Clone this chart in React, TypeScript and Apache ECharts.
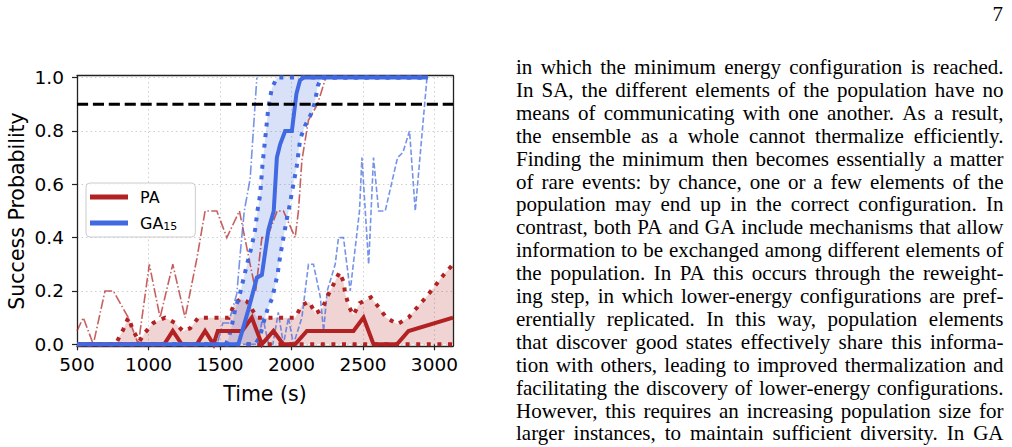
import React, { useEffect, useRef } from 'react';
import * as echarts from 'echarts';

// ---------------- data ----------------
const X_MIN = 500;
const X_MAX = 3130;
const X_STEP = 500;
const THRESHOLD = 0.9;

// PA (population annealing) mean success probability
const paMeanT = [500, 1110, 1170, 1233, 1338, 1396, 1455, 1485, 1655, 1723, 1793, 1874, 1942, 2026, 2108, 2434, 2504, 2574, 2738, 2819, 3130];
const paMeanP = [0, 0, 0.05, 0, 0, 0.05, 0, 0.05, 0.05, 0.1, 0, 0.05, 0, 0, 0.05, 0.05, 0.1, 0, 0, 0.05, 0.1];

// PA band (upper / lower)
const paUpT = [500, 770, 824, 859, 894, 935, 976, 1034, 1116, 1186, 1240, 1291, 1349, 1560, 1600, 1641, 1690, 1760, 2026, 2073, 2124, 2166, 2213, 2248, 2290, 2336, 2364, 2376, 2406, 2434, 2476, 2556, 2609, 2663, 2742, 2819, 2882, 2947, 3006, 3064, 3130];
const paUpP = [0, 0, 0.056, 0.1, 0.05, 0.01, 0.044, 0.08, 0.1, 0.08, 0.05, 0.06, 0.1, 0.1, 0.15, 0.17, 0.16, 0.1, 0.1, 0.147, 0.16, 0.116, 0.13, 0.176, 0.22, 0.27, 0.235, 0.19, 0.137, 0.11, 0.154, 0.176, 0.14, 0.1, 0.076, 0.1, 0.14, 0.18, 0.22, 0.26, 0.3];
const paLoT = [500, 3130];
const paLoP = [0, 0];

// GA (genetic algorithm, 15) mean success probability
const gaMeanT = [500, 1629, 1699, 1758, 1793, 1839, 1876, 1898, 1921, 1956, 2003, 2035, 2060, 2085, 2955];
const gaMeanP = [0, 0, 0.13, 0.25, 0.26, 0.43, 0.5, 0.7, 0.75, 0.8, 0.8, 0.94, 0.99, 1.0, 1.0];

// GA band (upper / lower)
const gaUpT = [500, 1540, 1559, 1583, 1606, 1640, 1653, 1694, 1723, 1746, 1762, 1781, 1797, 1816, 1839, 1863, 1898, 2955];
const gaUpP = [0, 0, 0.02, 0.07, 0.13, 0.19, 0.22, 0.31, 0.37, 0.43, 0.5, 0.56, 0.67, 0.77, 0.89, 0.96, 1.0, 1.0];
const gaLoT = [500, 1746, 1781, 1804, 1832, 1863, 1886, 1905, 1921, 1944, 1968, 1991, 2003, 2038, 2061, 2096, 2143, 2165, 2185, 2210, 2955];
const gaLoP = [0, 0, 0.03, 0.08, 0.13, 0.17, 0.22, 0.27, 0.33, 0.4, 0.47, 0.53, 0.57, 0.67, 0.77, 0.82, 0.87, 0.91, 0.97, 1.0, 1.0];

// thin individual-instance curves
const paInstT = [500, 544, 614, 696, 754, 859, 929, 1006, 1081, 1170, 1256, 1338, 1396, 1478, 1548, 1636, 1711, 1750, 1793, 1830, 1900, 1944, 2026, 2049, 2073, 2119, 2182, 2240];
const paInstP = [0.05, 0.1, 0, 0.2, 0.2, 0.1, 0, 0.3, 0.1, 0.3, 0.1, 0.32, 0.5, 0.5, 0.4, 0.5, 0.3, 0.2, 0.4, 0.4, 0.5, 0.5, 0.4, 0.5, 0.69, 0.84, 0.9, 1.0];

const gaInstAT = [500, 1480, 1520, 1560, 1618, 1640, 1670, 1711, 1758];
const gaInstAP = [0, 0, 0.08, 0.08, 0.19, 0.33, 0.5, 0.62, 1.0];

const gaInstBT = [500, 1760, 1800, 1840, 1870, 1908, 1944, 1979, 2014, 2073, 2119, 2154, 2201, 2225, 2250, 2306, 2329, 2364, 2411, 2476, 2493, 2540, 2574, 2610, 2656, 2742, 2780, 2826, 2866, 2948];
const gaInstBP = [0, 0, 0.1, 0, 0, 0.12, 0, 0.1, 0, 0.1, 0.3, 0.3, 0.18, 0.05, 0.2, 0.3, 0.4, 0.4, 0.2, 0.5, 0.7, 0.3, 0.7, 0.5, 0.5, 0.7, 0.72, 0.8, 0.5, 1.0];

const Y_TICKS_STEP = 0.2;

const paragraphLines = [
  'in which the minimum energy configuration is reached.',
  'In SA, the different elements of the population have no',
  'means of communicating with one another. As a result,',
  'the ensemble as a whole cannot thermalize efficiently.',
  'Finding the minimum then becomes essentially a matter',
  'of rare events: by chance, one or a few elements of the',
  'population may end up in the correct configuration. In',
  'contrast, both PA and GA include mechanisms that allow',
  'information to be exchanged among different elements of',
  'the population. In PA this occurs through the reweight-',
  'ing step, in which lower-energy configurations are pref-',
  'erentially replicated. In this way, population elements',
  'that discover good states effectively share this informa-',
  'tion with others, leading to improved thermalization and',
  'facilitating the discovery of lower-energy configurations.',
  'However, this requires an increasing population size for',
  'larger instances, to maintain sufficient diversity. In GA',
];
const PAGE_NUMBER = '7';

// ---------------- styling ----------------
const RED = '#b22222';
const BLUE = '#4169e1';
const FONT = 'DejaVu Sans';
const SERIF = 'Liberation Serif';
const TEXT_SIZE = 21;
const TEXT_LEFT = 516;
const TEXT_RIGHT = 1003.5;
const LINE_Y0 = 67;
const LINE_STEP = 22.9;

const zip = (t: number[], p: number[]) => t.map((v, i) => [v, p[i]]);

function justifiedText(): any[] {
  const cv = document.createElement('canvas');
  const ctx = cv.getContext('2d')!;
  ctx.font = `${TEXT_SIZE}px "${SERIF}"`;
  const els: any[] = [];
  paragraphLines.forEach((line, i) => {
    const words = line.split(' ');
    const ws = words.map((w) => ctx.measureText(w).width);
    const total = ws.reduce((a, b) => a + b, 0);
    const gap = words.length > 1 ? (TEXT_RIGHT - TEXT_LEFT - total) / (words.length - 1) : 0;
    let x = TEXT_LEFT;
    words.forEach((w, j) => {
      els.push({
        type: 'text',
        x,
        y: LINE_Y0 + i * LINE_STEP,
        silent: true,
        style: {
          text: w,
          fontSize: TEXT_SIZE,
          fontFamily: SERIF,
          fill: '#000',
          textAlign: 'left',
          align: 'left',
          textVerticalAlign: 'middle',
          verticalAlign: 'middle',
        },
      });
      x += ws[j] + gap;
    });
  });
  els.push({
    type: 'text',
    x: 1003,
    y: 14,
    silent: true,
    style: {
      text: PAGE_NUMBER,
      fontSize: TEXT_SIZE,
      fontFamily: SERIF,
      fill: '#000',
      textAlign: 'right',
      align: 'right',
      textVerticalAlign: 'middle',
      verticalAlign: 'middle',
    },
  });
  return els;
}

function band(name: string, up: number[][], lo: number[][], fill: string) {
  return {
    name,
    type: 'custom',
    xAxisIndex: 0,
    yAxisIndex: 0,
    silent: true,
    clip: false,
    data: [[X_MIN, 0]],
    renderItem: (_params: any, api: any) => {
      const pts = [...up.map((p) => api.coord(p)), ...lo.slice().reverse().map((p) => api.coord(p))];
      return { type: 'polygon', shape: { points: pts }, style: { fill } };
    },
  };
}

function line(name: string, data: number[][], color: string, width: number, type: any, extra: any = {}) {
  return {
    name,
    type: 'line',
    xAxisIndex: 0,
    yAxisIndex: 0,
    data,
    showSymbol: false,
    symbol: 'none',
    clip: false,
    silent: true,
    color,
    itemStyle: { color },
    lineStyle: { color, width, type, cap: 'butt', join: 'miter' },
    ...extra,
  };
}

const DOT = [4, 6.6];
const DASHDOT = [9.6, 2.4, 1.5, 2.4];
const DASH = [5.5, 2.4];

export default function App() {
  const ref = useRef<HTMLDivElement>(null);
  useEffect(() => {
    const chart = echarts.init(ref.current!, undefined, { renderer: 'svg' });
    const gridLine = { show: true, lineStyle: { color: '#cfcfcf', width: 1, type: [1.5, 3] } };
    const frameAxis = (pos: string, grid: number) => ({
      gridIndex: grid,
      type: 'value',
      position: pos,
      min: 0,
      max: 1,
      axisLine: { show: true, onZero: false, lineStyle: { color: '#222', width: 1.3 } },
      axisTick: { show: false },
      axisLabel: { show: false },
      splitLine: { show: false },
    });
    const option: any = {
      animation: false,
      backgroundColor: '#fff',
      grid: [
        { left: 77, right: 559, top: 77.6, bottom: 102.7 },
        { left: 77, right: 559, top: 75.7, bottom: 101 },
      ],
      xAxis: [
        {
          gridIndex: 0,
          type: 'value',
          min: X_MIN,
          max: X_MAX,
          interval: X_STEP,
          axisLine: { show: false, onZero: false },
          axisTick: { show: true, length: 6, lineStyle: { color: '#222', width: 1.2 } },
          axisLabel: {
            fontSize: 18.5,
            fontFamily: FONT,
            color: '#000',
            margin: 11,
            showMaxLabel: false,
            formatter: (v: number) => (v % X_STEP === 0 ? String(v) : ''),
          },
          splitLine: gridLine,
          name: 'Time (s)',
          nameLocation: 'middle',
          nameGap: 39,
          nameTextStyle: { fontSize: 20.5, fontFamily: FONT, color: '#000' },
        },
        frameAxis('bottom', 1),
        frameAxis('top', 1),
      ],
      yAxis: [
        {
          gridIndex: 0,
          type: 'value',
          min: 0,
          max: 1,
          interval: Y_TICKS_STEP,
          axisLine: { show: false, onZero: false },
          axisTick: { show: true, length: 5, lineStyle: { color: '#222', width: 1.2 } },
          axisLabel: {
            fontSize: 18.5,
            fontFamily: FONT,
            color: '#000',
            margin: 13,
            formatter: (v: number) => v.toFixed(1),
          },
          splitLine: gridLine,
          name: 'Success Probability',
          nameLocation: 'middle',
          nameGap: 50,
          nameTextStyle: { fontSize: 20.5, fontFamily: FONT, color: '#000' },
        },
        frameAxis('left', 1),
        frameAxis('right', 1),
      ],
      legend: {
        data: ['PA', 'GA'],
        orient: 'vertical',
        left: 86,
        top: 183,
        icon: 'rect',
        itemWidth: 38,
        itemHeight: 5,
        itemGap: 8,
        selectedMode: false,
        padding: [5, 18, 5, 4],
        backgroundColor: 'rgba(255,255,255,0.85)',
        borderColor: '#cccccc',
        borderWidth: 1,
        borderRadius: 4,
        textStyle: {
          fontSize: 16,
          fontFamily: FONT,
          color: '#000',
          lineHeight: 18,
          padding: [0, 0, 0, 7],
          rich: {
            m: { fontSize: 16, fontFamily: FONT, color: '#000', lineHeight: 18 },
            s: { fontSize: 11, fontFamily: FONT, color: '#000', lineHeight: 18, verticalAlign: 'bottom', padding: [7, 0, 0, 0] },
          },
        },
        formatter: (name: string) => (name === 'GA' ? '{m|GA}{s|15}' : '{m|' + name + '}'),
      },
      graphic: justifiedText(),
      series: [
        band('PA band', zip(paUpT, paUpP), zip(paLoT, paLoP), 'rgba(178,34,34,0.2)'),
        band('GA band', zip(gaUpT, gaUpP), zip(gaLoT, gaLoP), 'rgba(65,105,225,0.2)'),
        line('PA instance', zip(paInstT, paInstP), 'rgba(178,34,34,0.72)', 1.6, DASHDOT),
        line('GA instance A', zip(gaInstAT, gaInstAP), 'rgba(65,105,225,0.72)', 1.6, DASHDOT),
        line('GA instance B', zip(gaInstBT, gaInstBP), 'rgba(65,105,225,0.72)', 1.6, DASH),
        line('PA upper', zip(paUpT, paUpP), RED, 4, DOT),
        line('PA lower', zip(paLoT, paLoP), RED, 4, DOT),
        line('GA upper', zip(gaUpT, gaUpP), BLUE, 4, DOT),
        line('GA lower', zip(gaLoT, gaLoP), BLUE, 4, DOT),
        line('PA', zip(paMeanT, paMeanP), RED, 4, 'solid'),
        line('GA', zip(gaMeanT, gaMeanP), BLUE, 4, 'solid'),
        line('Threshold', [[X_MIN, THRESHOLD], [X_MAX, THRESHOLD]], '#000', 3, [11.1, 4.8]),
      ],
    };
    chart.setOption(option);
    return () => chart.dispose();
  }, []);
  return (
    <div
      ref={ref}
      style={{ position: 'absolute', left: 0, top: 0, width: 1012, height: 447, background: '#fff' }}
    />
  );
}
